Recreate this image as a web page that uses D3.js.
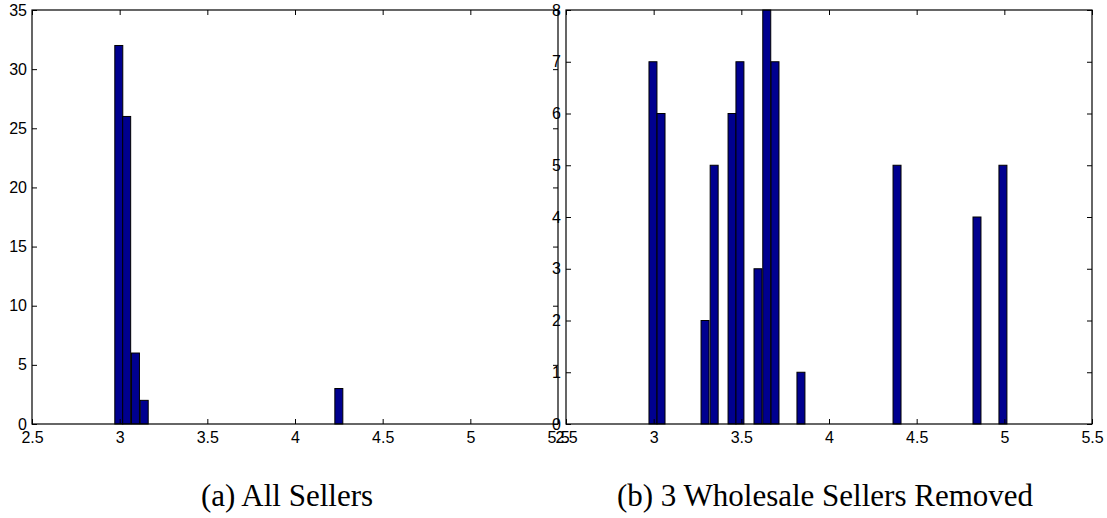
<!DOCTYPE html>
<html>
<head>
<meta charset="utf-8">
<script src="https://cdn.jsdelivr.net/npm/d3@7"></script>
<style>
  html, body { margin: 0; padding: 0; background: #fff; }
  svg { display: block; }
  .tick text { font-family: "Liberation Sans", Arial, Helvetica, sans-serif; font-size: 16px; fill: #000; }
  .caption { font-family: "Liberation Serif", "Times New Roman", serif; font-size: 31px; fill: #000; }
</style>
</head>
<body>
<script>
// ---- Data ----
const xTicks = [2.5, 3, 3.5, 4, 4.5, 5, 5.5];

const allX = [2.995, 3.04, 3.09, 3.14, 4.25];
const allCounts = [32, 26, 6, 2, 3];
const allYTicks = [0, 5, 10, 15, 20, 25, 30, 35];

const remX = [2.996, 3.042, 3.293, 3.345, 3.447, 3.492, 3.595, 3.645, 3.692, 3.840, 4.388, 4.844, 4.992];
const remCounts = [7, 6, 2, 5, 6, 7, 3, 8, 7, 1, 5, 4, 5];
const remYTicks = [0, 1, 2, 3, 4, 5, 6, 7, 8];

const captions = ["(a) All Sellers", "(b) 3 Wholesale Sellers Removed"];

// ---- Layout ----
const W = 1107, H = 518;
const svg = d3.select("body").append("svg").attr("width", W).attr("height", H);
svg.append("rect").attr("width", W).attr("height", H).attr("fill", "#fff");

const barWidthUnits = 0.0455;
const barFill = "#00008f";

function panel(opts) {
  const x = d3.scaleLinear().domain([2.5, 5.5]).range([opts.x0, opts.x1]);
  const y = d3.scaleLinear().domain([0, opts.ymax]).range([opts.y1, opts.y0]);
  const g = svg.append("g");

  // bars
  const bw = x(2.5 + barWidthUnits) - x(2.5);
  g.append("g").selectAll("rect")
    .data(opts.xs.map((v, i) => ({ x: v, c: opts.counts[i] })))
    .join("rect")
    .attr("x", d => x(d.x) - bw / 2)
    .attr("y", d => y(d.c))
    .attr("width", bw)
    .attr("height", d => y(0) - y(d.c))
    .attr("fill", barFill)
    .attr("stroke", "#000")
    .attr("stroke-width", 1);

  const fmt = d => String(d);

  // bottom axis
  const gb = g.append("g").attr("transform", `translate(0,${opts.y1})`)
    .call(d3.axisBottom(x).tickValues(xTicks).tickFormat(fmt).tickSizeInner(-5).tickSizeOuter(0).tickPadding(8));
  // top axis (ticks only)
  const gt = g.append("g").attr("transform", `translate(0,${opts.y0})`)
    .call(d3.axisTop(x).tickValues(xTicks).tickFormat("").tickSizeInner(-5).tickSizeOuter(0));
  // left axis
  const gl = g.append("g").attr("transform", `translate(${opts.x0},0)`)
    .call(d3.axisLeft(y).tickValues(opts.yticks).tickFormat(fmt).tickSizeInner(-5).tickSizeOuter(0).tickPadding(5));
  // right axis (ticks only)
  const gr = g.append("g").attr("transform", `translate(${opts.x1},0)`)
    .call(d3.axisRight(y).tickValues(opts.yticks).tickFormat("").tickSizeInner(-5).tickSizeOuter(0));

  [gb, gt, gl, gr].forEach(a => {
    a.select(".domain").remove();
    a.selectAll(".tick line").attr("stroke", "#000").attr("stroke-width", 1);
    a.attr("font-family", null).attr("font-size", null);
  });

  // frame
  g.append("rect")
    .attr("x", opts.x0).attr("y", opts.y0)
    .attr("width", opts.x1 - opts.x0).attr("height", opts.y1 - opts.y0)
    .attr("fill", "none").attr("stroke", "#000").attr("stroke-width", 1.2);

  // caption
  svg.append("text").attr("class", "caption")
    .attr("x", opts.capX).attr("y", 506)
    .attr("text-anchor", "middle")
    .text(opts.caption);
}

panel({ x0: 32, x1: 558, y0: 10, y1: 424, ymax: 35, xs: allX, counts: allCounts, yticks: allYTicks, caption: captions[0], capX: 287 });
panel({ x0: 566, x1: 1092, y0: 10, y1: 424, ymax: 8, xs: remX, counts: remCounts, yticks: remYTicks, caption: captions[1], capX: 825 });
</script>
</body>
</html>
